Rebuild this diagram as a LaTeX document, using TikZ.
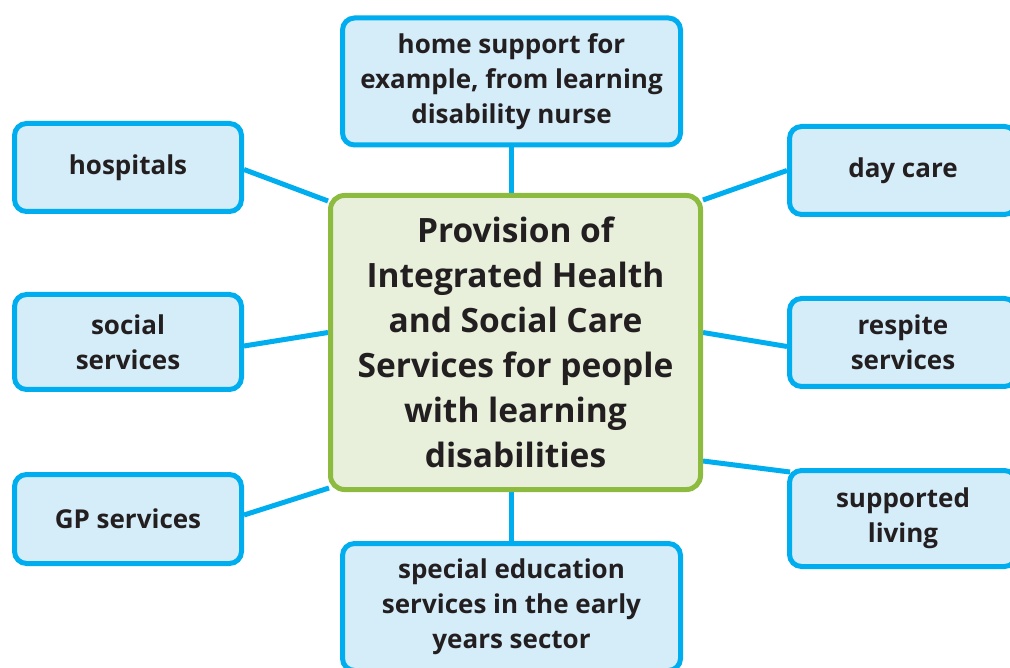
\documentclass[tikz,border=0pt]{standalone}
\usepackage{fontspec}
\setmainfont{Open Sans}
\usetikzlibrary{backgrounds}
\definecolor{cyanline}{HTML}{00AEEF}
\definecolor{cyanfill}{HTML}{D5ECF9}
\definecolor{leafgreen}{HTML}{8CBB3F}
\definecolor{palegreen}{HTML}{E8F0DC}
\definecolor{ink}{HTML}{231F20}
\tikzset{
  baseline = (current bounding box.center),
}

\begin{document}
\begin{tikzpicture}[
      x=1pt, y=-1pt,
      leaf/.style={draw=cyanline,fill=cyanfill,line width=5pt,rounded corners=12pt,
        align=center,text=ink,inner sep=0pt,minimum width=227pt,
        font=\fontsize{26}{35}\selectfont\bfseries},
      hub/.style={draw=leafgreen,fill=palegreen,line width=5pt,rounded corners=14pt,
        align=center,text=ink,inner sep=0pt,minimum width=370pt,minimum height=294pt,
        font=\fontsize{33.5}{45}\selectfont\bfseries},
      link/.style={draw=cyanline,line width=5pt}
      ]
      \useasboundingbox (0,0) rectangle (1010,668);
      % central box
      \node[hub] (centre) at (515.5,342.5)
        {Provision of\\Integrated Health\\and Social Care\\Services for people\\with learning\\disabilities};
      % top and bottom
      \node[leaf,minimum width=338pt,minimum height=127pt] (home) at (511.5,81.5)
        {home support for\\example, from learning\\disability nurse};
      \node[leaf,minimum width=338pt,minimum height=127pt] (school) at (511.5,607)
        {special education\\services in the early\\years sector};
      % left column
      \node[leaf,minimum height=88pt] (hosp) at (128,167.5) {hospitals};
      \node[leaf,minimum height=95pt] (social) at (128,342) {social\\services};
      \node[leaf,minimum height=89pt] (gp) at (128,519) {GP services};
      % right column
      \node[leaf,minimum height=88pt] (day) at (903,170.5) {day care};
      \node[leaf,minimum height=88pt] (respite) at (903,342.5) {respite\\services};
      \node[leaf,minimum height=96pt] (living) at (903,518.5) {supported\\living};
      \begin{scope}[on background layer]
        \draw[link] (home.south) -- (home.south |- centre.north);
        \draw[link] (school.north) -- (school.north |- centre.south);
        \draw[link] ([shift={(0,2)}]hosp.east) -- ([shift={(0,8)}]centre.north west);
        \draw[link] ([shift={(0,4)}]social.east) -- ([shift={(0,-10)}]centre.west);
        \draw[link] ([shift={(0,-4)}]gp.east) -- ([shift={(1,-4)}]centre.south west);
        \draw[link] (day.west) -- ([shift={(0,7)}]centre.north east);
        \draw[link] ([shift={(0,4)}]respite.west) -- ([shift={(0,-10)}]centre.east);
        \draw[link] ([shift={(3,4)}]living.north west) -- ([shift={(0,-31)}]centre.south east);
      \end{scope}
    \end{tikzpicture}
\end{document}
